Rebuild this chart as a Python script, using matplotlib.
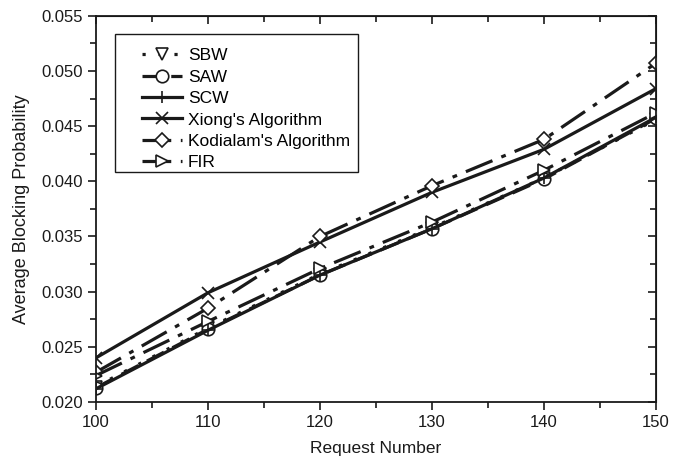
import matplotlib.pyplot as plt
from matplotlib.patches import Rectangle
from matplotlib.ticker import MultipleLocator, FormatStrFormatter

plt.rcParams['font.family'] = ['Liberation Sans', 'DejaVu Sans']

# Request numbers (x axis)
requests = [100, 110, 120, 130, 140, 150]

# Average blocking probability per algorithm
sbw = [0.0214, 0.0267, 0.0316, 0.0358, 0.0403, 0.0456]
saw = [0.0213, 0.0266, 0.0315, 0.0357, 0.0402, 0.0457]
scw = [0.0212, 0.0265, 0.0315, 0.0357, 0.0403, 0.0458]
xiong = [0.0240, 0.0299, 0.0345, 0.0390, 0.0429, 0.0484]
kodialam = [0.0227, 0.0285, 0.0350, 0.0396, 0.0438, 0.0507]
fir = [0.0224, 0.0273, 0.0321, 0.0363, 0.0410, 0.0462]

labels = ["SBW", "SAW", "SCW", "Xiong's Algorithm", "Kodialam's Algorithm", "FIR"]

ink = '#1a1a1a'
fig = plt.figure(figsize=(6.88, 4.63), dpi=100)
ax = fig.add_axes([0.1395, 0.1317, 0.814, 0.8343])

common = dict(color=ink, linewidth=2.3, markersize=9,
              markerfacecolor='white', markeredgecolor=ink, markeredgewidth=1.2)

ax.plot(requests, sbw, linestyle=(0, (1, 4)), marker='v', label=labels[0], **common)
ax.plot(requests, saw, linestyle=(0, (6, 3)), marker='o', label=labels[1], **common)
ax.plot(requests, scw, linestyle='-', marker='+', label=labels[2], **common)
ax.plot(requests, xiong, linestyle='-', marker='x', label=labels[3], **common)
ax.plot(requests, kodialam, linestyle=(0, (9, 3, 1.5, 3)), marker='D', label=labels[4],
        **{**common, 'markersize': 7.5})
ax.plot(requests, fir, linestyle=(0, (9, 3, 1.5, 3)), marker='>', label=labels[5], **common)

ax.set_xlim(100, 150)
ax.set_ylim(0.020, 0.055)
ax.xaxis.set_major_locator(MultipleLocator(10))
ax.xaxis.set_minor_locator(MultipleLocator(5))
ax.yaxis.set_major_locator(MultipleLocator(0.005))
ax.yaxis.set_minor_locator(MultipleLocator(0.0025))
ax.yaxis.set_major_formatter(FormatStrFormatter('%.3f'))
ax.tick_params(which='both', direction='out', labelsize=12, width=1.2, colors=ink)
ax.tick_params(which='major', length=6)
ax.tick_params(which='minor', length=4)
for s in ax.spines.values():
    s.set_linewidth(1.3)
    s.set_color(ink)

# inward ticks on top and right
top = ax.secondary_xaxis('top')
top.xaxis.set_major_locator(MultipleLocator(10))
top.xaxis.set_minor_locator(MultipleLocator(5))
top.tick_params(which='both', direction='in', labeltop=False, width=1.2, colors=ink)
top.tick_params(which='major', length=6)
top.tick_params(which='minor', length=4)
right = ax.secondary_yaxis('right')
right.yaxis.set_major_locator(MultipleLocator(0.005))
right.yaxis.set_minor_locator(MultipleLocator(0.0025))
right.tick_params(which='both', direction='in', labelright=False, width=1.2, colors=ink)
right.tick_params(which='major', length=6)
right.tick_params(which='minor', length=4)

ax.set_xlabel("Request Number", fontsize=12.5, color=ink, labelpad=8)
ax.set_ylabel("Average Blocking Probability", fontsize=13, color=ink, labelpad=8)

# legend without its own frame; the box is drawn separately
ax.legend(loc='upper left', bbox_to_anchor=(0.082, 0.916), fontsize=12.5,
          frameon=False, handlelength=2.3, handletextpad=0.35,
          labelspacing=0.36, borderpad=0, borderaxespad=0)
ax.add_patch(Rectangle((0.034, 0.5954), 0.434, 0.3572, transform=ax.transAxes,
                       fill=False, edgecolor=ink, linewidth=1.0, zorder=5))

fig.savefig("out.png", dpi=100)
